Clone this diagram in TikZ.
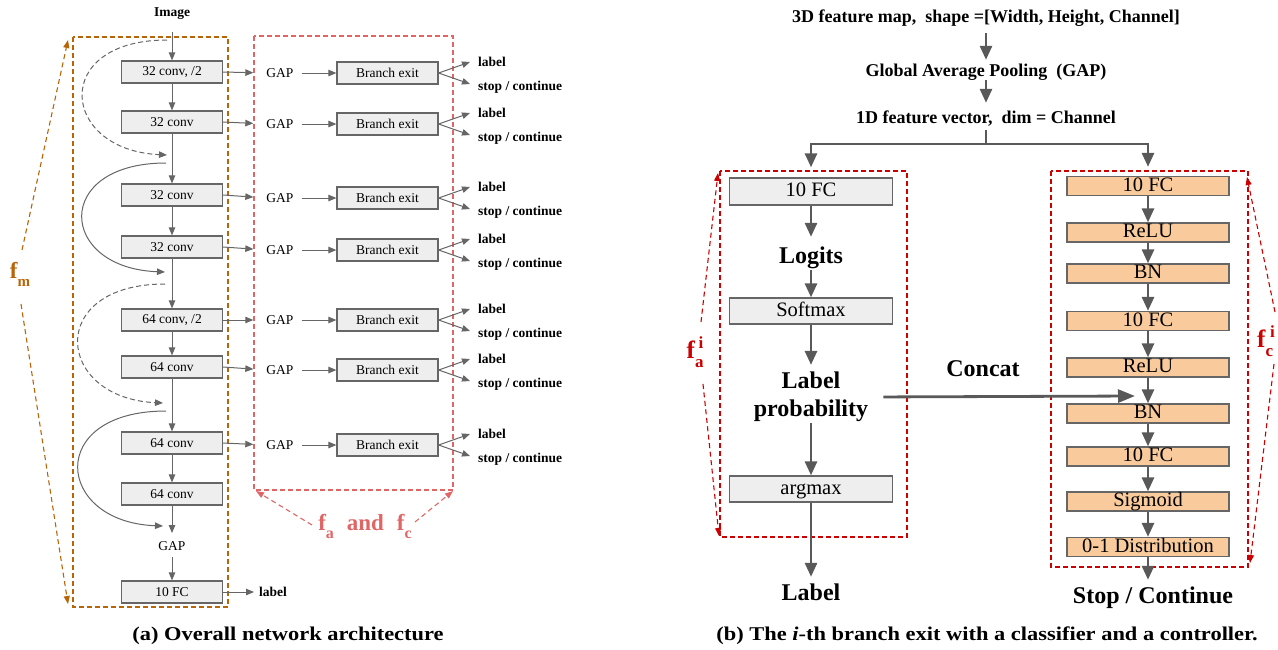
\documentclass[tikz,border=0pt]{standalone}
\usepackage{fontspec}
\setmainfont{Liberation Serif}
\newfontfamily\capfont[FakeStretch=1.15]{Liberation Serif}
\usetikzlibrary{arrows.meta}
\newcommand{\fsz}[1]{\fontsize{#1}{#1}\selectfont}
\definecolor{boxgray}{HTML}{EEEEEE}
\definecolor{edgegray}{HTML}{666666}
\definecolor{arrgray}{HTML}{595959}
\definecolor{peach}{HTML}{F9CB9C}
\definecolor{fmorange}{HTML}{B8650A}
\definecolor{lightred}{HTML}{E06666}
\definecolor{darkred}{HTML}{CC0000}

\begin{document}
\begin{tikzpicture}[x=1pt,y=-1pt,
  layer/.style={draw=edgegray,line width=1.2pt,fill=boxgray,minimum width=101pt,
    minimum height=22pt,inner sep=0pt,font=\fsz{13.5}},
  plain/.style={inner sep=0pt,font=\fsz{13.5},text height=9.5pt,text depth=0pt},
  boldsm/.style={inner sep=0pt,font=\bfseries\fsz{13.5}},
  thinarr/.style={draw=edgegray,line width=1pt,-{Triangle[length=8pt,width=6.5pt]}},
  skipdash/.style={thinarr,dash pattern=on 5pt off 3pt},
  graybox/.style={draw=edgegray,line width=1.3pt,fill=boxgray,minimum width=163pt,
    inner sep=0pt,text height=14pt,text depth=4pt,font=\fsz{20.5}},
  peachbox/.style={draw=edgegray,line width=1.3pt,fill=peach,minimum width=162pt,
    minimum height=19pt,inner sep=0pt,text height=14pt,text depth=4pt,font=\fsz{20.5}},
  headtext/.style={inner sep=0pt,font=\bfseries\fsz{18},text height=13pt,text depth=4pt},
  bigtext/.style={inner sep=0pt,font=\bfseries\fsz{24},text height=17pt,text depth=5pt},
  bigarr/.style={draw=arrgray,line width=2.8pt,-{Triangle[length=14pt,width=12pt]}},
  annot/.style={line width=1.1pt,dash pattern=on 5pt off 3.5pt,-{Triangle[length=8pt,width=6pt]}},
  frame/.style={line width=1.1pt,dash pattern=on 5pt off 3pt}
]
\useasboundingbox (0,0) rectangle (1278,649);

% ---------------- (a) overall network ----------------
\draw[frame,fmorange] (73,37) rectangle (228,607);
\draw[frame,lightred] (254,36) rectangle (453,490);

\node[boldsm] (img) at (172,14) {Image};
\node[layer] (c1) at (172,72)  {32 conv, /2};
\node[layer] (c2) at (172,122) {32 conv};
\node[layer] (c3) at (172,195) {32 conv};
\node[layer] (c4) at (172,247) {32 conv};
\node[layer] (c5) at (172,320) {64 conv, /2};
\node[layer] (c6) at (172,367) {64 conv};
\node[layer] (c7) at (172,443) {64 conv};
\node[layer] (c8) at (172,494) {64 conv};
\node[plain] (gapm) at (172,546) {GAP};
\node[layer] (fcm) at (172,592) {10 FC};
\node[boldsm,anchor=west] (lblm) at (259,592) {label};

\draw[thinarr,shorten <=12pt] (img) -- (c1);
\draw[thinarr] (c1) -- (c2);
\draw[thinarr] (c2) -- (c3);
\draw[thinarr] (c3) -- (c4);
\draw[thinarr] (c4) -- (c5);
\draw[thinarr] (c5) -- (c6);
\draw[thinarr] (c6) -- (c7);
\draw[thinarr] (c7) -- (c8);
\draw[thinarr,shorten >=8pt] (c8) -- (gapm);
\draw[thinarr,shorten <=6pt] (gapm) -- (fcm);
\draw[thinarr,shorten >=5pt] (fcm) -- (lblm);

% residual shortcuts
\coordinate (s1a) at (167,40);  \coordinate (s1b) at (167,155);
\coordinate (s2a) at (166,163); \coordinate (s2b) at (165,272);
\coordinate (s3a) at (165,284); \coordinate (s3b) at (163,403);
\coordinate (s4a) at (166,411); \coordinate (s4b) at (163,526);
\draw[skipdash] (s1a) .. controls (50,40) and (60,150) .. (s1b);
\draw[thinarr]  (s2a) .. controls (52,163) and (58,268) .. (s2b);
\draw[skipdash] (s3a) .. controls (45,284) and (55,398) .. (s3b);
\draw[thinarr]  (s4a) .. controls (45,411) and (55,522) .. (s4b);

% branch exits
\foreach \i/\yb in {1/73,2/124,3/198,4/250,5/320,6/370,7/445}{
  \node[plain] (g\i) at (280,\yb) {GAP};
  \node[layer,minimum width=101pt] (b\i) at (387.5,\yb) {Branch exit};
  \draw[thinarr,shorten >=13pt] (c\i.east) -- (g\i.west);
  \draw[thinarr,shorten <=8pt] (g\i) -- (b\i);
  \coordinate (ta\i) at (470,\yb-11);
  \coordinate (tb\i) at (470,\yb+11);
  \draw[thinarr] (b\i.east) -- (ta\i);
  \draw[thinarr] (b\i.east) -- (tb\i);
  \node[boldsm,anchor=west] (la\i) at (478,\yb-11) {label};
  \node[boldsm,anchor=west] (st\i) at (478,\yb+14) {stop / continue};
}

% module labels
\node[fmorange,inner sep=0pt,font=\bfseries\fsz{23}] (fm) at (20,274)
  {f\raisebox{-8pt}{\fsz{15}m}};
\coordinate (fmtop) at (68,40);
\coordinate (fmbot) at (68,604);
\draw[annot,fmorange] (22,250) -- (fmtop);
\draw[annot,fmorange] (21,304) -- (fmbot);

\node[lightred,inner sep=0pt,font=\bfseries\fsz{23}] (fafc) at (365,526)
  {f\raisebox{-8pt}{\fsz{16}a}\hspace{13pt}and\hspace{13pt}f\raisebox{-8pt}{\fsz{16}c}};
\coordinate (fal) at (256,491);
\coordinate (far) at (453,491);
\draw[annot,lightred] (312,525) -- (fal);
\draw[annot,lightred] (415,522) -- (far);

% ---------------- (b) branch exit ----------------
\node[headtext] (map)  at (986,17.5) {3D feature map,\ \ shape =[Width, Height, Channel]};
\node[headtext] (gapr) at (986,71.5) {Global Average Pooling\ \ (GAP)};
\node[headtext] (vec)  at (986,118.5) {1D feature vector,\ \ dim = Channel};
\coordinate (split) at (986,144);
\draw[bigarr,shorten <=7pt,shorten >=3pt] (map) -- (gapr);
\draw[bigarr,shorten >=7pt] (gapr) -- (vec);
\draw[draw=arrgray,line width=2.8pt,shorten <=3pt] (vec) -- (split);

\draw[frame,darkred] (720,171) rectangle (907,537);
\draw[frame,darkred] (1051,171) rectangle (1248,567);

% classifier
\node[graybox,minimum height=27pt] (cfc) at (811,191.5) {10 FC};
\node[bigtext] (logit) at (811,257) {Logits};
\node[graybox,minimum height=26pt] (soft) at (811,311) {Softmax};
\node[inner sep=0pt,font=\bfseries\fontsize{24}{28}\selectfont,align=center] (prob) at (811,397)
  {Label\\probability};
\node[graybox,minimum height=26pt] (argm) at (811,489) {argmax};
\node[bigtext] (lab) at (811,594) {Label};

\draw[bigarr,line join=miter,shorten >=10pt] (split) -| (cfc.north);
\draw[bigarr,shorten >=9pt] (cfc) -- (logit);
\draw[bigarr,shorten <=2pt] (logit) -- (soft);
\draw[bigarr,shorten >=7pt] (soft) -- (prob);
\draw[bigarr,shorten <=1pt] (prob) -- (argm);
\draw[bigarr,shorten >=6pt] (argm) -- (lab);

% controller
\node[peachbox] (p1) at (1148,186)   {10 FC};
\node[peachbox] (p2) at (1148,232.5) {ReLU};
\node[peachbox] (p3) at (1148,273.5) {BN};
\node[peachbox] (p4) at (1148,321)   {10 FC};
\node[peachbox] (p5) at (1148,367.5) {ReLU};
\node[peachbox] (p6) at (1148,413.5) {BN};
\node[peachbox] (p7) at (1148,456.5) {10 FC};
\node[peachbox] (p8) at (1148,501.5) {Sigmoid};
\node[peachbox] (p9) at (1148,547)   {0-1 Distribution};
\node[bigtext] (stop) at (1153,597) {Stop / Continue};

\draw[bigarr,line join=miter,shorten >=9pt] (split) -| (p1.north);
\foreach \a/\b in {p1/p2,p2/p3,p3/p4,p4/p5,p5/p6,p6/p7,p7/p8,p8/p9}{
  \draw[bigarr] (\a) -- (\b);
}
\draw[bigarr,shorten >=6pt] (p9.south) -- (p9.south |- stop.north);

% concatenation into the controller
\node[bigtext] (cat) at (983,370) {Concat};
\coordinate (catend) at (1135,396);
\draw[draw=arrgray,line width=2.8pt,-{Triangle[length=17pt,width=13pt]},shorten <=15pt]
  (prob.east) -- (catend);

% module labels
\node[darkred,inner sep=0pt,font=\bfseries\fsz{25}] (fai) at (695,352)
  {f\raisebox{-9pt}{\fsz{17}a}\hspace{-5pt}\raisebox{10pt}{\fsz{17}i}};
\coordinate (fait) at (718,173);
\coordinate (faib) at (719,536);
\draw[annot,darkred] (701,322) -- (fait);
\draw[annot,darkred] (703,384) -- (faib);

\node[darkred,inner sep=0pt,font=\bfseries\fsz{25}] (fci) at (1266,341)
  {f\raisebox{-9pt}{\fsz{17}c}\hspace{-3pt}\raisebox{10pt}{\fsz{17}i}};
\coordinate (fcit) at (1247,177);
\coordinate (fcib) at (1250,563);
\draw[annot,darkred] (1275,312) -- (fcit);
\draw[annot,darkred] (1274,364) -- (fcib);

% captions
\node[inner sep=0pt,font=\capfont\bfseries\fsz{19.5}] (capa) at (288,636)
  {(a) Overall network architecture};
\node[inner sep=0pt,font=\capfont\bfseries\fsz{19.5}] (capb) at (987,636)
  {(b) The \textit{i}-th branch exit with a classifier and a controller.};
\end{tikzpicture}
\end{document}
